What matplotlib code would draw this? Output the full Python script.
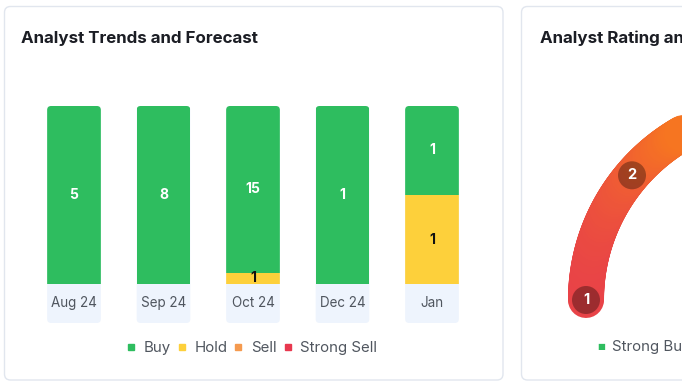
import numpy as np
import matplotlib.pyplot as plt
from matplotlib.patches import FancyBboxPatch, Circle
from matplotlib.collections import LineCollection
from matplotlib.colors import LinearSegmentedColormap
from matplotlib.lines import Line2D
from matplotlib.transforms import IdentityTransform

plt.rcParams['font.family'] = ['Inter', 'DejaVu Sans']

# data: analyst trends
months = ["Aug 24", "Sep 24", "Oct 24", "Dec 24", "Jan"]
buy = [5, 8, 15, 1, 1]
hold = [0, 0, 1, 0, 1]
sell = [0, 0, 0, 0, 0]
strong_sell = [0, 0, 0, 0, 0]

# data: rating gauge
ratings = [1, 2, 3, 4, 5]
rating_names = ["Strong Buy", "Buy", "Hold", "Sell", "Strong Sell"]

GREEN = "#2ebd5f"
YELLOW = "#fdd03b"
ORANGE = "#f59a4f"
RED = "#e8384f"
TEXT = "#50565f"

W, H = 682, 384
fig = plt.figure(figsize=(W / 100, H / 100), dpi=100)
fig.patch.set_facecolor("white")


def fx(px):
    return px / W


def fy(py):
    return 1 - py / H


def card(x0, y0, x1, y1):
    # pixel box, y measured from the top
    p = FancyBboxPatch((x0, H - y1), x1 - x0, y1 - y0,
                       boxstyle="round,pad=0,rounding_size=6",
                       transform=IdentityTransform(), facecolor="white",
                       edgecolor="#e1e6ee", linewidth=1.0, zorder=-5)
    fig.add_artist(p)


card(4.5, 6.5, 503, 380)
card(521.5, 6.5, 760, 380)

fig.text(fx(21), fy(38), "Analyst Trends and Forecast", fontsize=12.2,
         fontweight="bold", color="#1b1d24", va="center", ha="left")
fig.text(fx(540), fy(38), "Analyst Rating and Price Target", fontsize=12.2,
         fontweight="bold", color="#1b1d24", va="center", ha="left")

############################
# stacked 100% bar chart
ax = fig.add_axes([fx(29.25), fy(284), (476.75 - 29.25) / W, (284 - 106) / H])
ax.set_xlim(-0.5, len(months) - 0.5)
ax.set_ylim(0, 1)
ax.set_autoscale_on(False)
ax.axis("off")

x = np.arange(len(months))
totals = np.array(buy) + np.array(hold) + np.array(sell) + np.array(strong_sell)
bar_w = 0.6
label_h = 39

fig.canvas.draw()
columns = []
for i in x:
    x0, y0 = ax.transData.transform((i - bar_w / 2, 0))
    x1, y1 = ax.transData.transform((i + bar_w / 2, 1))
    col = FancyBboxPatch((x0, y0 - label_h), x1 - x0, y1 - y0 + label_h,
                         boxstyle="round,pad=0,rounding_size=4",
                         transform=IdentityTransform(), facecolor="#eef4fd",
                         edgecolor="none", zorder=0)
    ax.add_patch(col)
    col.set_clip_on(False)
    columns.append(col)
    ax.annotate(months[i], xy=(i, 0), xytext=(0, -19), textcoords="offset pixels",
                ha="center", va="center", fontsize=9.7, color=TEXT)

bottom = np.zeros(len(months))
series = [(strong_sell, RED, "white"), (sell, ORANGE, "white"),
          (hold, YELLOW, "#111111"), (buy, GREEN, "white")]
for vals, color, tcolor in series:
    vals = np.array(vals)
    frac = vals / totals
    bars = ax.bar(x, frac, bar_w, bottom=bottom, color=color, zorder=2)
    for b, col in zip(bars, columns):
        b.set_clip_path(col)
    labels = [str(v) if v > 0 else "" for v in vals]
    ax.bar_label(bars, labels=labels, label_type="center", color=tcolor,
                 fontsize=10, fontweight="bold")
    bottom = bottom + frac

handles = [Line2D([], [], marker="s", linestyle="none", markersize=5, color=c)
           for c in [GREEN, YELLOW, ORANGE, RED]]
fig.legend(handles, ["Buy", "Hold", "Sell", "Strong Sell"], loc="center",
           bbox_to_anchor=(fx(251), fy(348)), ncol=4, frameon=False,
           fontsize=10.8, labelcolor=TEXT, handletextpad=0.45,
           columnspacing=0.33, handlelength=0.8, borderpad=0)

############################
# rating gauge
cx, cy, r = 778, 300, 192
ext = 240
gx = fig.add_axes([fx(cx - ext), fy(cy + ext), 2 * ext / W, 2 * ext / H])
gx.set_xlim(-ext, ext)
gx.set_ylim(-ext, ext)
gx.axis("off")

cmap = LinearSegmentedColormap.from_list(
    "gauge", [(0, "#e63a4e"), (0.32, "#f98019"), (0.55, "#fcc32c"),
              (0.78, "#8cc63f"), (1, "#2ebd5f")])
theta = np.linspace(np.pi, 0, 400)
px = r * np.cos(theta)
py = r * np.sin(theta)
pts = np.column_stack([px, py])
segs = np.stack([pts[:-1], pts[1:]], axis=1)
colors = cmap((px[:-1] + r + 18) / (2 * r + 36))
lc = LineCollection(segs, colors=colors, linewidths=36 * 72 / 100,
                    capstyle="round", zorder=1)
gx.add_collection(lc)

step = np.radians(40.5)
for k in ratings:
    a = np.pi - (k - 1) * step
    mx, my = r * np.cos(a), r * np.sin(a)
    gx.add_patch(Circle((mx, my), 14, facecolor="black", alpha=0.33,
                        edgecolor="none", zorder=3))
    gx.text(mx, my, str(k), color="white", fontsize=10.5, fontweight="bold",
            ha="center", va="center", zorder=4)

gcolors = [GREEN, "#8cc63f", YELLOW, ORANGE, RED]
lx = 601
for name, c in zip(rating_names, gcolors):
    fig.text(fx(lx), fy(347), "\u25a0", color=c, fontsize=6, ha="center",
             va="center", family="DejaVu Sans")
    fig.text(fx(lx + 11), fy(347), name, fontsize=10.8, color=TEXT,
             ha="left", va="center")
    lx += 95

fig.savefig("out.png", dpi=100, facecolor="white")
